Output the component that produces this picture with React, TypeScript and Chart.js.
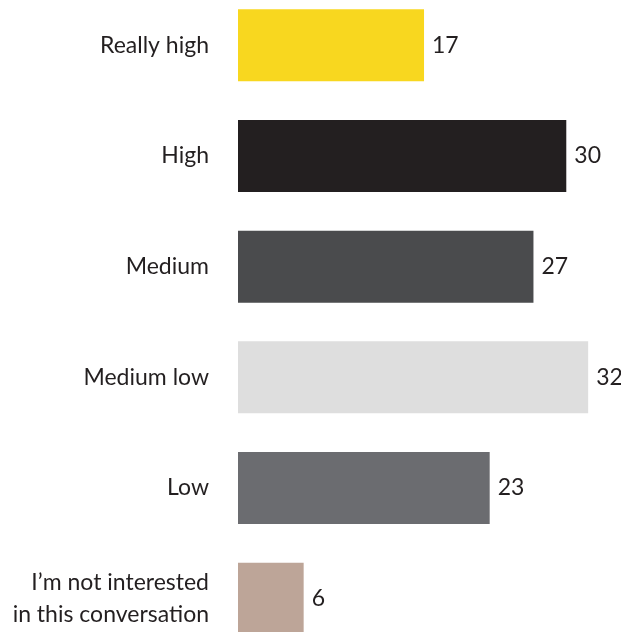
import React, { useEffect, useRef } from "react";
import { Chart, registerables } from "chart.js";

Chart.register(...registerables);

const categories: (string | string[])[] = [
  "Really high",
  "High",
  "Medium",
  "Medium low",
  "Low",
  ["I’m not interested", "in this conversation"],
];
const values: number[] = [17, 30, 27, 32, 23, 6];
const barColors: string[] = ["#F8D71F", "#231F20", "#4A4B4D", "#DEDEDE", "#6B6C70", "#BDA598"];

const FONT = "Lato, 'Open Sans', sans-serif";
const TEXT = "#231F20";

const valueLabels = {
  id: "valueLabels",
  afterDatasetsDraw(chart: any) {
    const ctx = chart.ctx;
    const meta = chart.getDatasetMeta(0);
    ctx.save();
    ctx.font = `23px ${FONT}`;
    ctx.fillStyle = TEXT;
    ctx.textAlign = "left";
    ctx.textBaseline = "middle";
    meta.data.forEach((bar: any, i: number) => {
      ctx.fillText(String(values[i]), bar.x + 8, bar.y);
    });
    ctx.restore();
  },
};

export default function App() {
  const ref = useRef<HTMLCanvasElement>(null);
  useEffect(() => {
    document.body.style.margin = "0";
    const chart = new Chart(ref.current!, {
      type: "bar",
      data: {
        labels: categories,
        datasets: [
          {
            data: values,
            backgroundColor: barColors,
            borderWidth: 0,
            barPercentage: 0.65,
            categoryPercentage: 1,
          },
        ],
      },
      options: {
        indexAxis: "y",
        animation: false,
        responsive: false,
        maintainAspectRatio: false,
        layout: { padding: 0 },
        plugins: { legend: { display: false }, tooltip: { enabled: false } },
        scales: {
          x: { display: false, min: 0, max: 35 },
          y: {
            grid: { display: false, drawTicks: false },
            border: { display: false },
            ticks: {
              color: TEXT,
              padding: 29,
              font: { family: FONT, size: 23, lineHeight: 1.39 },
            },
            afterFit(scale: any) {
              scale.width = 238;
              scale.paddingTop = 0;
              scale.paddingBottom = 0;
            },
          },
        },
      },
      plugins: [valueLabels],
    });
    return () => chart.destroy();
  }, []);
  return (
    <div style={{ position: "relative", width: 621, height: 632, overflow: "hidden" }}>
      <canvas
        ref={ref}
        width={621}
        height={664}
        style={{ position: "absolute", left: 0, top: -10, width: 621, height: 664 }}
      />
    </div>
  );
}
